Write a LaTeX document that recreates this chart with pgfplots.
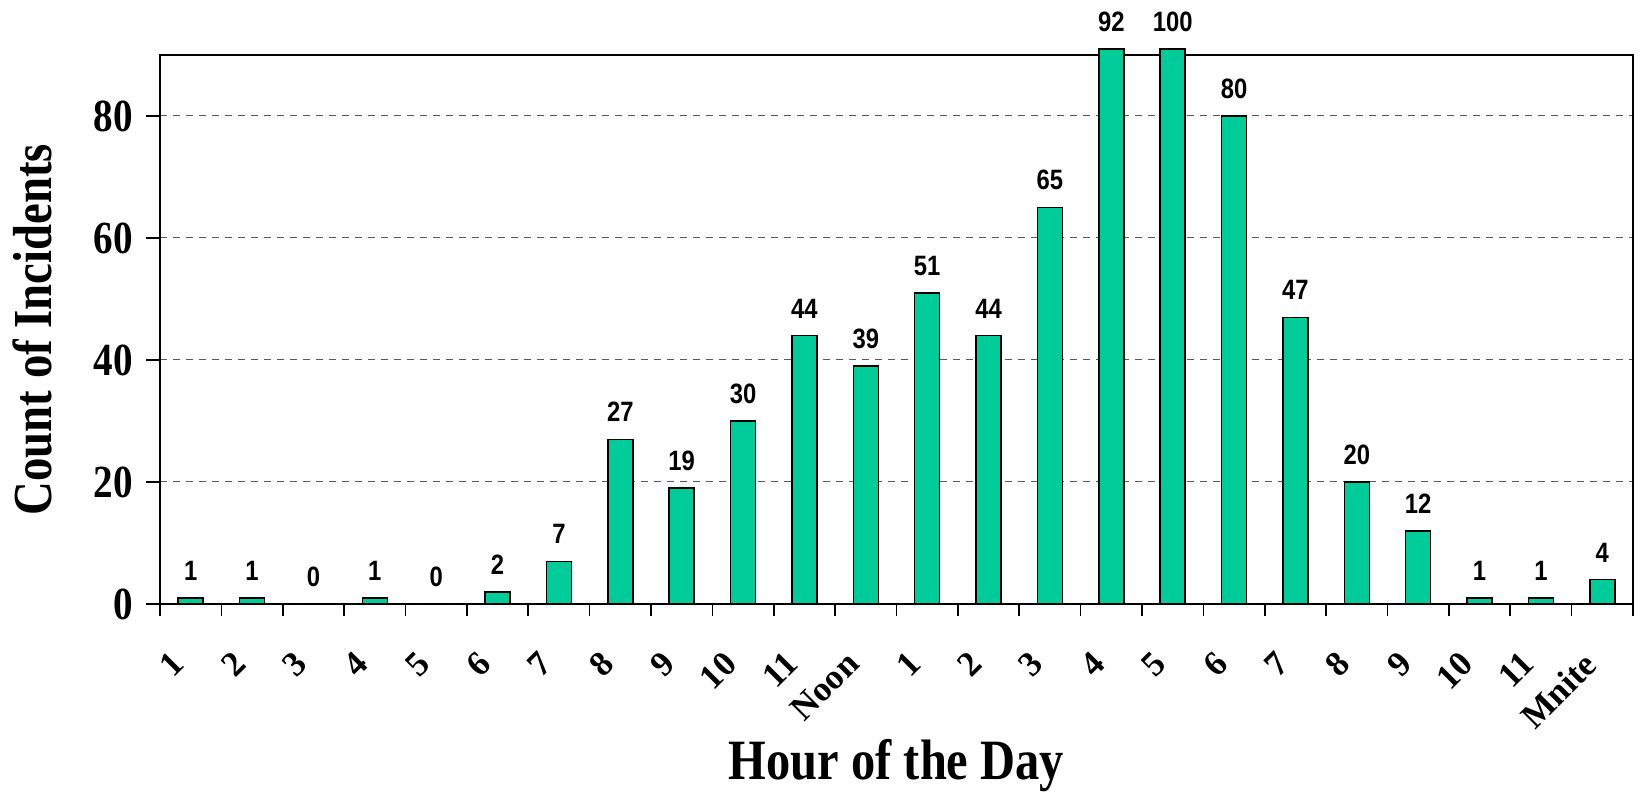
\documentclass[border=0pt]{standalone}
\usepackage{fontspec}
\setmainfont{Liberation Serif}[FakeStretch=0.85]
\newfontfamily\plainserif{Liberation Serif}
\newfontfamily\lsans{Liberation Sans}[FakeStretch=0.85]
\usepackage{pgfplots}
\pgfplotsset{compat=1.18}
\usepackage{pgfplotstable}
\definecolor{barc}{RGB}{0,204,153}

\pgfplotstableread{
x v
0 1
1 1
2 0
3 1
4 0
5 2
6 7
7 27
8 19
9 30
10 44
11 39
12 51
13 44
14 65
15 92
16 100
17 80
18 47
19 20
20 12
21 1
22 1
23 4
}\datatable

\begin{document}
\begin{tikzpicture}
\begin{axis}[
  scale only axis, width=736.5pt, height=274.5pt,
  xmin=-0.5, xmax=23.5, ymin=0, ymax=90,
  ybar, bar width=12.5pt,
  xtick={0,...,23},
  xticklabels={1,2,3,4,5,6,7,8,9,10,11,Noon,1,2,3,4,5,6,7,8,9,10,11,Mnite},
  minor xtick={-0.5,0.5,...,23.5},
  major x tick style={draw=none},
  minor x tick style={black, line width=0.8pt},
  major y tick style={black, line width=0.8pt},
  ytick={0,20,40,60,80},
  tick align=outside, xtick pos=bottom, ytick pos=left,
  major tick length=7pt, minor tick length=6pt,
  ymajorgrids,
  major grid style={dash pattern=on 3.5pt off 3pt, black!65, line width=0.5pt},
  axis line style={line width=1pt},
  clip=false,
  restrict y to domain*=0:91,
  /pgf/number format/assume math mode=true,
  yticklabel style={font=\fontsize{23}{23}\selectfont\bfseries, xshift=-3pt},
  xticklabel style={font=\plainserif\fontsize{17.5}{17.5}\selectfont\bfseries, xshift=-10.5pt, yshift=-11pt, rotate=45, anchor=north east},
  xlabel={Hour of the Day},
  ylabel={Count of Incidents},
  xlabel style={font=\fontsize{28.5}{28.5}\selectfont\bfseries, at={([yshift=-81pt]axis description cs:0.5,0)}, anchor=center},
  ylabel style={font=\fontsize{27.5}{27.5}\selectfont\bfseries, at={([xshift=-64pt]axis description cs:0,0.5)}, anchor=center},
  nodes near coords,
  point meta=explicit,
  nodes near coords style={font=\lsans\bfseries\fontsize{14}{14}\selectfont, yshift=5pt, black},
]
\addplot[fill=barc, draw=black, line width=0.75pt] table[x=x, y=v, meta=v] {\datatable};
\end{axis}
\pgfresetboundingbox
\path ([shift={(-80pt,-97pt)}]current axis.south west) rectangle ([shift={(8pt,27.5pt)}]current axis.north east);
\end{tikzpicture}
\end{document}
